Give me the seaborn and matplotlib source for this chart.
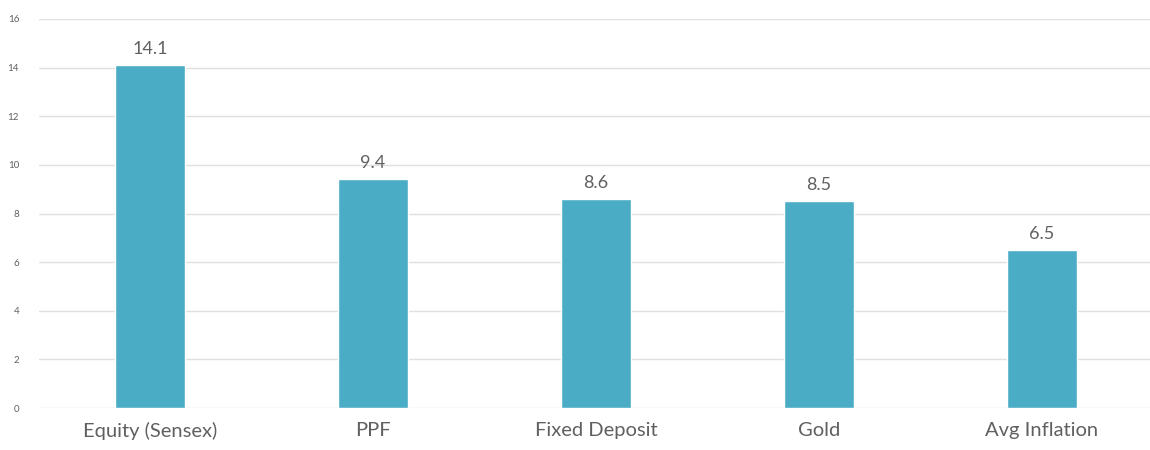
import pandas as pd
import seaborn as sns
import matplotlib.pyplot as plt

# données du graphique
categories = ["Equity (Sensex)", "PPF", "Fixed Deposit", "Gold", "Avg Inflation"]
rendements = [14.1, 9.4, 8.6, 8.5, 6.5]
yticks = [0, 2, 4, 6, 8, 10, 12, 14, 16]

df = pd.DataFrame({"categorie": categories, "rendement": rendements})

sns.set_theme(style="white")
plt.rcParams['font.family'] = ['Lato', 'DejaVu Sans']

fig = plt.figure(figsize=(11.5, 4.5), dpi=100)
ax = fig.add_axes([0.0335, 0.093, 0.9696, 0.865])

sns.barplot(data=df, x="categorie", y="rendement", color="#4BACC6",
            saturation=1, width=0.31, ax=ax, zorder=3)

# étiquettes de valeur au-dessus des barres
for p, v in zip(ax.patches, rendements):
    ax.annotate(f"{v}", (p.get_x() + p.get_width() / 2, p.get_height()),
                xytext=(0, 6), textcoords="offset points",
                ha="center", va="bottom", fontsize=13, color="#606060")

ax.set_ylim(0, 16)
ax.set_xlim(-0.5, 4.5)
ax.set_yticks(yticks)
ax.yaxis.grid(True, color="#e0e0e0", linewidth=1, zorder=0)
ax.set_axisbelow(True)
for s in ax.spines.values():
    s.set_visible(False)
ax.tick_params(axis="y", labelsize=7, colors="#606060", length=0, pad=14)
ax.tick_params(axis="x", labelsize=14.5, colors="#606060", length=0, pad=10)
ax.set_xlabel("")
ax.set_ylabel("")

plt.savefig("out.png", dpi=100)
